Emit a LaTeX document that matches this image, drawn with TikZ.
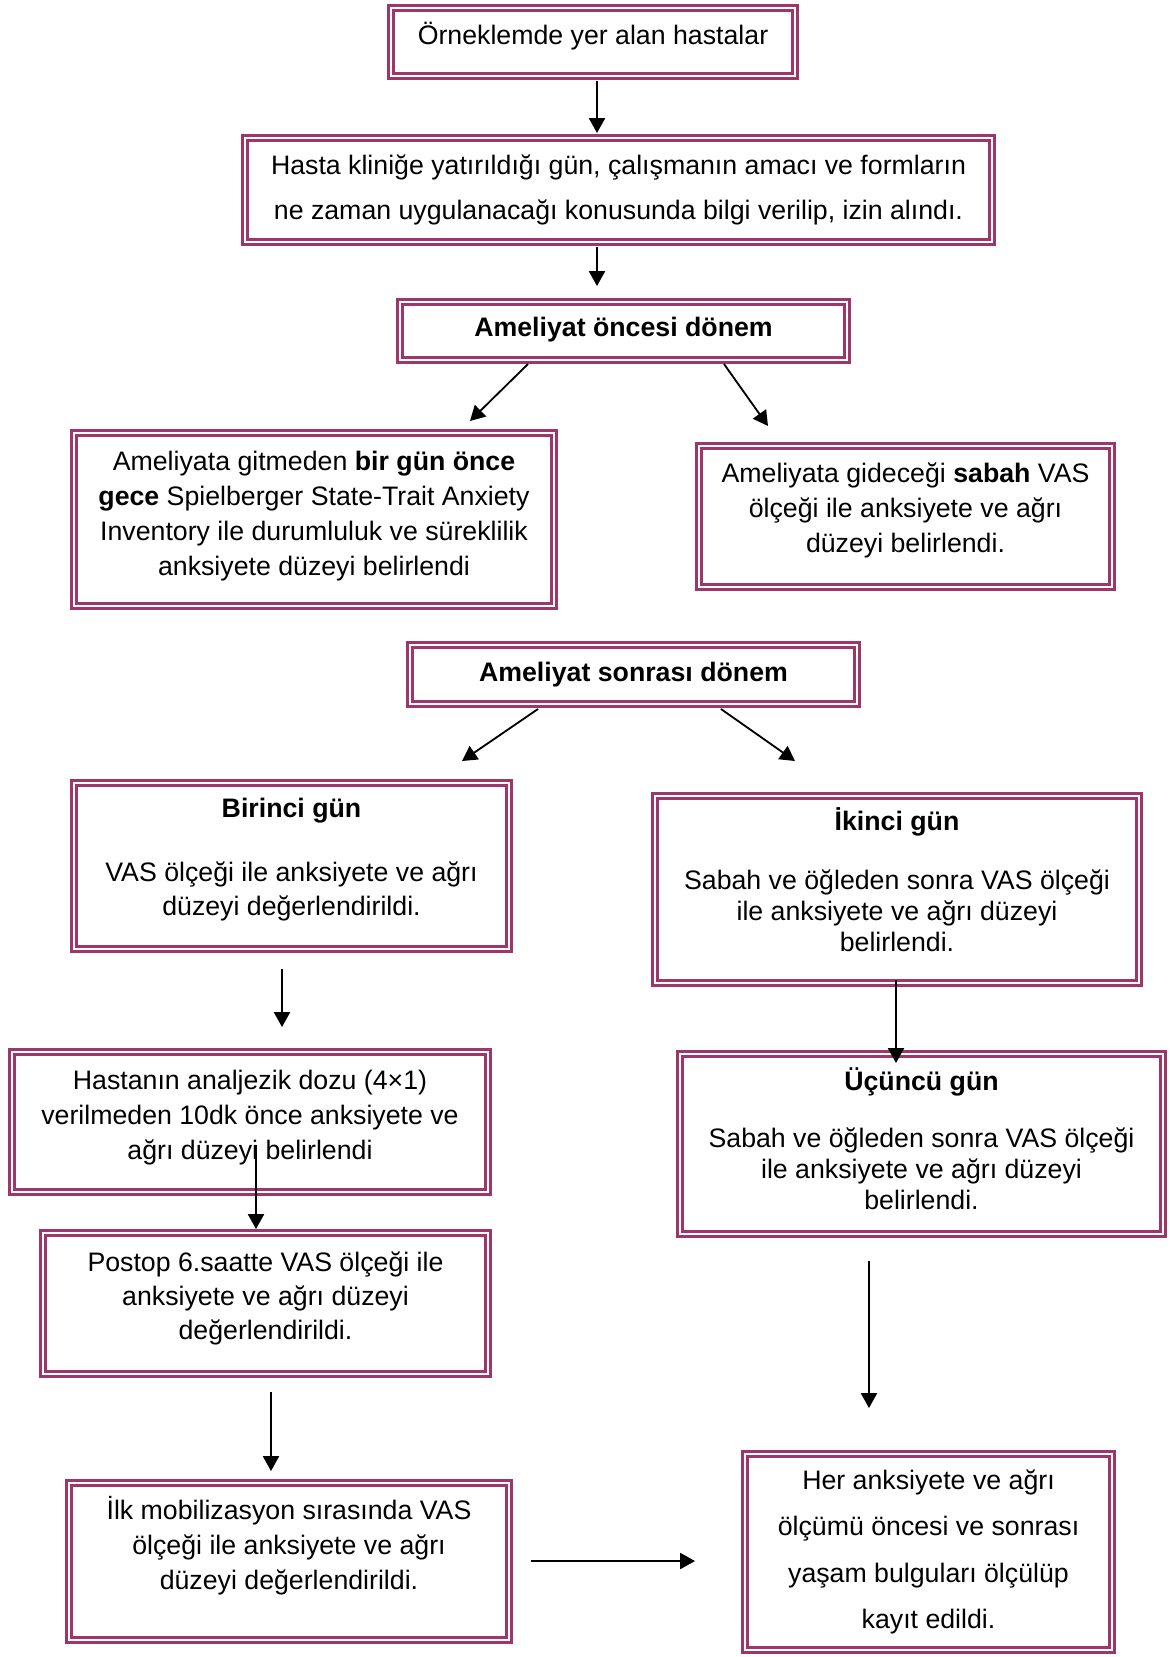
\documentclass[tikz,border=0pt]{standalone}
\usepackage{fontspec}
\setmainfont{Liberation Sans}
\usetikzlibrary{arrows.meta}
\definecolor{boxc}{RGB}{158,54,106}
\begin{document}
\begin{tikzpicture}[x=0.025cm, y=-0.025cm,
	dbox/.style={rectangle, preaction={draw=boxc, line width=5.6pt}, draw=boxc, line width=1.3pt, double=white, double distance=1.3pt, inner sep=0pt},
	txt/.style={align=center, inner sep=0pt, font=\fontsize{19}{25}\selectfont},
	arr/.style={-{Triangle[length=0.37cm,width=0.4cm]}, line width=1.3pt}]
	\useasboundingbox (0,0) rectangle (1170,1657);
	% boxes
	\node at (593,42) [dbox, minimum width=10.1cm, minimum height=1.7cm] (sample) {};
	\node at (618.5,190) [dbox, minimum width=18.675cm, minimum height=2.6cm] (admit) {};
	\node at (623.5,331) [dbox, minimum width=11.175cm, minimum height=1.45cm] (preop) {};
	\node at (314,519.5) [dbox, minimum width=12cm, minimum height=4.325cm] (night) {};
	\node at (905.5,516.5) [dbox, minimum width=10.325cm, minimum height=3.525cm] (morning) {};
	\node at (633.5,674.5) [dbox, minimum width=11.175cm, minimum height=1.475cm] (postop) {};
	\node at (291.5,866) [dbox, minimum width=10.875cm, minimum height=4.15cm] (day1) {};
	\node at (897,889.5) [dbox, minimum width=12.1cm, minimum height=4.675cm] (day2) {};
	\node at (250,1122) [dbox, minimum width=11.9cm, minimum height=3.5cm] (dose) {};
	\node at (921.5,1144) [dbox, minimum width=12.075cm, minimum height=4.5cm] (day3) {};
	\node at (265.5,1303.5) [dbox, minimum width=11.125cm, minimum height=3.525cm] (hour6) {};
	\node at (289,1561.5) [dbox, minimum width=11cm, minimum height=3.925cm] (mobil) {};
	\node at (928.5,1552) [dbox, minimum width=9.175cm, minimum height=4.9cm] (vital) {};
	% texts
	\node at (sample) [txt, yshift=0.14cm] (sample-t) {Örneklemde yer alan hastalar};
	\node at (admit) [txt, font=\fontsize{19}{32}\selectfont] (admit-t) {Hasta kliniğe yatırıldığı gün, çalışmanın amacı ve formların\\ne zaman uygulanacağı konusunda bilgi verilip, izin alındı.};
	\node at (preop) [txt, yshift=0.03cm] (preop-t) {\textbf{Ameliyat öncesi dönem}};
	\node at (night) [txt, yshift=0.08cm] (night-t) {Ameliyata gitmeden \textbf{bir gün önce}\\\textbf{gece} Spielberger State-Trait Anxiety\\Inventory ile durumluluk ve süreklilik\\anksiyete düzeyi belirlendi};
	\node at (morning) [txt, yshift=0.16cm] (morning-t) {Ameliyata gideceği \textbf{sabah} VAS\\ölçeği ile anksiyete ve ağrı\\düzeyi belirlendi.};
	\node at (postop) (postop-t) [txt] {\textbf{Ameliyat sonrası dönem}};
	\node at (day1) [txt, yshift=0.16cm, font=\fontsize{19}{24}\selectfont] (day1-t) {\textbf{Birinci gün}\\[22pt]VAS ölçeği ile anksiyete ve ağrı\\düzeyi değerlendirildi.};
	\node at (day2) [txt, yshift=0.24cm, font=\fontsize{19}{22}\selectfont] (day2-t) {\textbf{İkinci gün}\\[20pt]Sabah ve öğleden sonra VAS ölçeği\\ile anksiyete ve ağrı düzeyi\\belirlendi.};
	\node at (dose) [txt, yshift=0.11cm] (dose-t) {Hastanın analjezik dozu (4×1)\\verilmeden 10dk önce anksiyete ve\\ağrı düzeyi belirlendi};
	\node at (day3) [txt, yshift=0.13cm, font=\fontsize{19}{22}\selectfont] (day3-t) {\textbf{Üçüncü gün}\\[19pt]Sabah ve öğleden sonra VAS ölçeği\\ile anksiyete ve ağrı düzeyi\\belirlendi.};
	\node at (hour6) [txt, yshift=0.13cm, font=\fontsize{19}{24}\selectfont] (hour6-t) {Postop 6.saatte VAS ölçeği ile\\anksiyete ve ağrı düzeyi\\değerlendirildi.};
	\node at (mobil) [txt, yshift=0.4cm] (mobil-t) {İlk mobilizasyon sırasında VAS\\ölçeği ile anksiyete ve ağrı\\düzeyi değerlendirildi.};
	\node at (vital) [txt, font=\fontsize{19}{33}\selectfont] (vital-t) {Her anksiyete ve ağrı\\ölçümü öncesi ve sonrası\\yaşam bulguları ölçülüp\\kayıt edildi.};
	% arrows
	\coordinate (s1) at (597,81); \coordinate (e1) at (597,133);
	\coordinate (s2) at (597,247); \coordinate (e2) at (597,286);
	\coordinate (s3) at (528,364); \coordinate (e3) at (470,421);
	\coordinate (s4) at (724,364); \coordinate (e4) at (768,426);
	\coordinate (s5) at (538,709); \coordinate (e5) at (462,761);
	\coordinate (s6) at (721,709); \coordinate (e6) at (795,761);
	\coordinate (s7) at (282,969); \coordinate (e7) at (282,1027);
	\coordinate (s8) at (896,980); \coordinate (e8) at (896,1063);
	\coordinate (s9) at (256,1145); \coordinate (e9) at (256,1229);
	\coordinate (s10) at (869,1261); \coordinate (e10) at (869,1408);
	\coordinate (s11) at (271,1392); \coordinate (e11) at (271,1471);
	\coordinate (s12) at (531,1561); \coordinate (e12) at (695,1561);
	\foreach \i in {1,...,12} \draw[arr] (s\i) -- (e\i);
\end{tikzpicture}
\end{document}
